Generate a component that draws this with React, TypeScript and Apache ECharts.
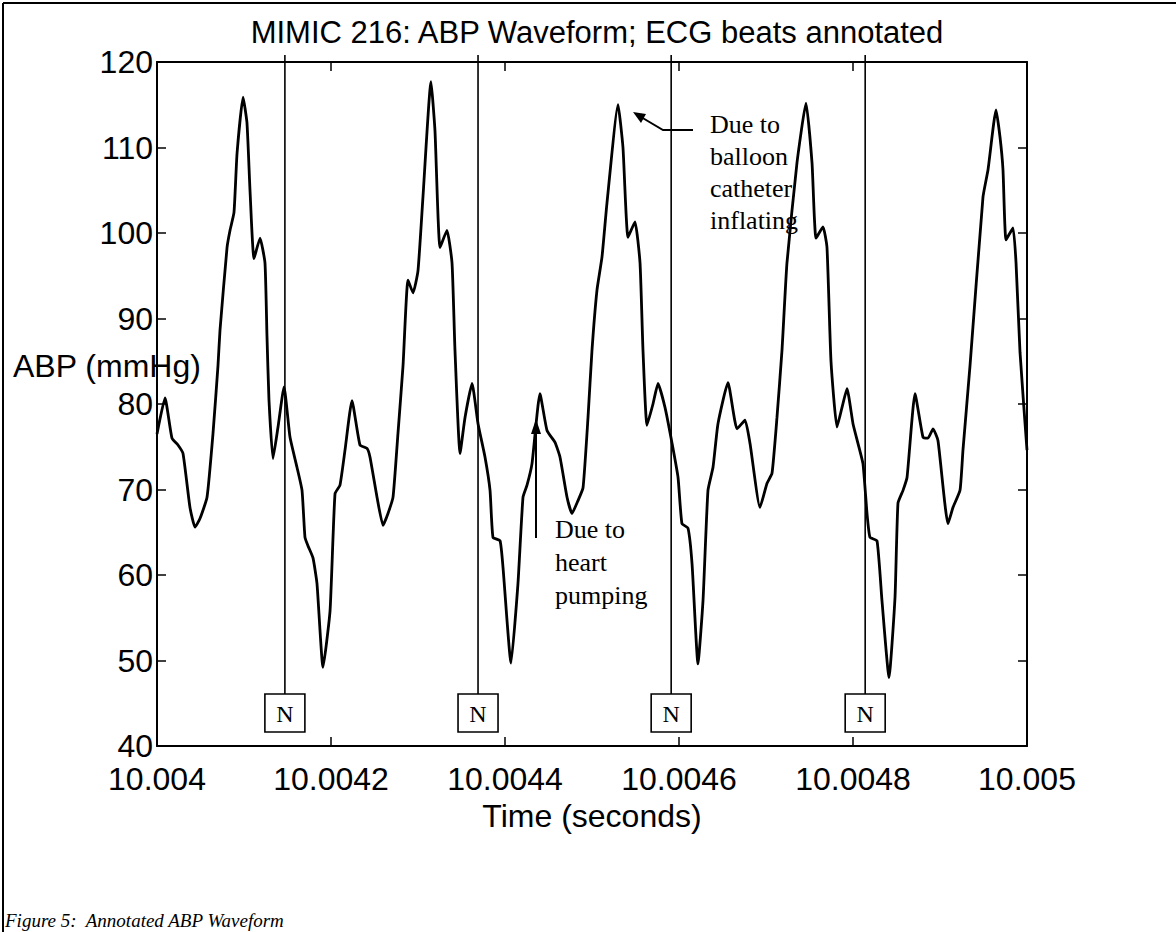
import React, { useEffect, useRef } from "react";
import * as echarts from "echarts";

// Time offset from 10.004 s, in microseconds
const timeUs = [
  0, 9.2, 17.2, 24.1, 29.9, 37.9, 43.7, 49.4, 57.5, 64.4, 70.1, 72.4, 80.5, 83.9, 88.5, 92.0, 98.9, 103.4, 106.9, 111.5,
  118.4, 124.1, 126.4, 128.7, 133.3, 139.1, 146.0, 152.9, 160.9, 166.7, 170.1, 173.6, 179.3, 183.9, 190.8, 198.9, 204.6,
  210.3, 216.1, 224.1, 233.3, 241.4, 244.8, 252.9, 259.8, 265.5, 271.3, 277.0, 282.8, 288.5, 294.3, 300.0, 305.7, 314.9,
  319.5, 325.3, 333.3, 339.1, 342.5, 348.3, 354.0, 362.1, 369.0, 377.0, 382.8, 386.2, 394.3, 397.7, 406.9, 414.9, 420.7,
  425.3, 431.0, 440.2, 448.3, 457.5, 463.2, 471.3, 477.0, 483.9, 489.7, 495.4, 500.0, 505.7, 511.5, 517.2, 529.9, 535.6,
  541.4, 549.4, 555.2, 558.6, 563.2, 570.1, 575.9, 583.9, 592.0, 598.9, 603.4, 610.3, 615.0, 621.8, 627.6, 633.3, 639.1,
  644.8, 656.3, 666.7, 675.9, 681.6, 693.1, 701.1, 706.9, 712.6, 718.4, 724.1, 735.6, 746.0, 752.9, 757.5, 765.5, 770.1,
  774.7, 781.6, 787.4, 793.1, 800.0, 805.7, 811.5, 816.1, 819.5, 827.6, 833.3, 841.4, 848.3, 851.7, 857.5, 862.1, 871.3,
  880.5, 886.2, 892.0, 897.7, 909.2, 914.9, 923.0, 926.4, 934.5, 949.4, 955.2, 964.4, 969.0, 972.4, 975.9, 983.9, 987.4,
  992.0, 1000.0,
];

// ABP in mmHg
const abpValues = [
  76.5, 80.7, 76.0, 75.2, 74.2, 67.9, 65.6, 66.6, 69.1, 76.6, 84.5, 88.6, 98.3, 100.3, 102.4, 109.3, 115.9, 112.9, 105.0, 97.0,
  99.4, 96.5, 88.0, 80.5, 73.6, 77.3, 82.0, 76.1, 72.6, 69.9, 64.4, 63.4, 62.0, 59.0, 49.2, 55.8, 69.5,
  70.5, 74.6, 80.4, 75.2, 74.8, 73.8, 69.1, 65.8, 67.2, 69.1, 76.6, 84.5, 94.5, 93.0, 95.6, 104.2, 117.7,
  112.0, 98.3, 100.3, 96.5, 86.3, 74.2, 78.4, 82.4, 77.7, 73.8, 69.9, 64.4, 64.0, 60.9, 49.7, 59.0, 69.1,
  70.5, 73.0, 81.2, 76.9, 75.5, 73.8, 69.1, 67.2, 68.7, 70.2, 78.4, 86.3, 93.3, 97.2, 103.5, 115.0, 110.0,
  99.5, 101.3, 96.5, 86.3, 77.5, 80.0, 82.4, 79.6, 75.4, 71.4, 66.0, 65.5, 61.3, 49.6, 57.0, 69.9, 72.6,
  77.7, 82.5, 77.1, 78.1, 75.4, 67.9, 70.7, 71.9, 78.4, 86.3, 96.5, 108.2, 115.2, 108.2, 99.4, 100.7, 98.3,
  85.0, 77.3, 79.6, 81.8, 77.7, 75.4, 73.0, 67.2, 64.4, 64.0, 57.0, 48.0, 57.4, 68.4, 69.9, 71.4, 81.2,
  76.1, 76.0, 77.1, 75.7, 66.0, 67.9, 69.9, 74.6, 84.5, 104.2, 107.4, 114.4, 111.2, 107.4, 99.2, 100.6, 96.5,
  86.0, 74.6,
];

// ECG beat annotations (time offset in microseconds)
const beatTimesUs = [147, 369, 591, 814];
const beatLabels = ["N", "N", "N", "N"];

const xTickLabels = ["10.004", "10.0042", "10.0044", "10.0046", "10.0048", "10.005"];
const yMin = 40;
const yMax = 120;
const yStep = 10;

const SANS = "'Liberation Sans', Arial, Helvetica, sans-serif";
const SERIF = "'Liberation Serif', 'Times New Roman', serif";

export default function App() {
  const ref = useRef<HTMLDivElement>(null);

  useEffect(() => {
    document.body.style.margin = "0";
    const chart = echarts.init(ref.current!, null, { renderer: "svg" });
    const GL = 157, GT = 62, GW = 870, GH = 684;

    const axisLine = { show: true, onZero: false, lineStyle: { color: "#000", width: 2 } };
    const axisTick = { show: true, inside: true, length: 9, lineStyle: { color: "#000", width: 1.5 } };

    chart.setOption({
      animation: false,
      backgroundColor: "#fff",
      title: {
        text: "MIMIC 216: ABP Waveform; ECG beats annotated",
        left: GL + GW / 2,
        textAlign: "center",
        top: 12,
        textStyle: { fontFamily: SANS, fontSize: 31, fontWeight: "normal", color: "#000" },
      },
      grid: { left: GL, top: GT, width: GW, height: GH, show: false },
      xAxis: [
        {
          type: "value", min: 0, max: 1000, interval: 200, position: "bottom",
          axisLine, axisTick, splitLine: { show: false },
          axisLabel: {
            formatter: (v: number) => xTickLabels[Math.round(v / 200)],
            fontSize: 32, lineHeight: 26, color: "#000", fontFamily: SANS, margin: 20,
          },
          name: "Time (seconds)", nameLocation: "middle", nameGap: 54,
          nameTextStyle: { fontSize: 32, color: "#000", fontFamily: SANS },
        },
        {
          type: "value", min: 0, max: 1000, interval: 200, position: "top",
          axisLine, axisTick, splitLine: { show: false }, axisLabel: { show: false },
        },
      ],
      yAxis: [
        {
          type: "value", min: yMin, max: yMax, interval: yStep, position: "left",
          axisLine, axisTick, splitLine: { show: false },
          axisLabel: { fontSize: 32, lineHeight: 24, color: "#000", fontFamily: SANS, margin: 4 },
        },
        {
          type: "value", min: yMin, max: yMax, interval: yStep, position: "right",
          axisLine, axisTick, splitLine: { show: false }, axisLabel: { show: false },
        },
      ],
      series: [
        {
          type: "line",
          xAxisIndex: 0, yAxisIndex: 0,
          data: timeUs.map((t, i) => [t, abpValues[i]]),
          symbol: "none", showSymbol: false,
          smooth: 0.15,
          lineStyle: { color: "#000", width: 2.8 },
          z: 3,
        },
        {
          type: "custom",
          xAxisIndex: 0, yAxisIndex: 0,
          clip: false,
          data: beatTimesUs.map((t) => [t, yMin]),
          renderItem: (params: any, api: any) => {
            const x = api.coord([api.value(0), yMax])[0];
            const yTop = api.coord([0, yMax])[1] - 7;
            const yBottom = api.coord([0, yMin])[1];
            const boxH = 38, boxW = 40;
            const boxTop = yBottom - 14 - boxH;
            return {
              type: "group",
              children: [
                { type: "line", shape: { x1: x, y1: yTop, x2: x, y2: boxTop }, style: { stroke: "#000", lineWidth: 1.6 } },
                { type: "rect", shape: { x: x - boxW / 2, y: boxTop, width: boxW, height: boxH }, style: { fill: "#fff", stroke: "#000", lineWidth: 1.6 } },
                {
                  type: "text",
                  style: {
                    text: beatLabels[params.dataIndex], x, y: boxTop + boxH / 2 + 1,
                    align: "center", verticalAlign: "middle", textAlign: "center", textVerticalAlign: "middle",
                    fontSize: 24, fontFamily: SERIF, fill: "#000",
                  },
                },
              ],
            };
          },
          z: 4,
        },
      ],
      graphic: [
        { type: "line", shape: { x1: 3, y1: 3, x2: 1176, y2: 3 }, style: { stroke: "#000", lineWidth: 2 } },
        { type: "line", shape: { x1: 3, y1: 3, x2: 3, y2: 932 }, style: { stroke: "#000", lineWidth: 2 } },
        {
          type: "text", left: 13, top: 350,
          style: { text: "ABP (mmHg)", fontSize: 32, fontFamily: SANS, fill: "#000" },
        },
        {
          type: "text", left: 710, top: 108,
          style: { text: "Due to\nballoon\ncatheter\ninflating", fontSize: 26, lineHeight: 32, fontFamily: SERIF, fill: "#000" },
        },
        { type: "polyline", shape: { points: [[693, 130], [663, 130], [641, 117]] }, style: { stroke: "#000", lineWidth: 2, fill: "none" } },
        { type: "polygon", shape: { points: [[633, 112], [646, 114], [641, 123]] }, style: { fill: "#000" } },
        {
          type: "text", left: 555, top: 513,
          style: { text: "Due to\nheart\npumping", fontSize: 26, lineHeight: 33, fontFamily: SERIF, fill: "#000" },
        },
        { type: "line", shape: { x1: 536, y1: 538, x2: 536, y2: 430 }, style: { stroke: "#000", lineWidth: 2 } },
        { type: "polygon", shape: { points: [[536, 419], [531, 434], [541, 434]] }, style: { fill: "#000" } },
        {
          type: "text", left: 5, top: 911,
          style: { text: "Figure 5:  Annotated ABP Waveform", fontSize: 19, fontStyle: "italic", fontFamily: SERIF, fill: "#000" },
        },
      ],
    });
    return () => chart.dispose();
  }, []);

  return <div ref={ref} style={{ width: 1176, height: 932 }} />;
}
